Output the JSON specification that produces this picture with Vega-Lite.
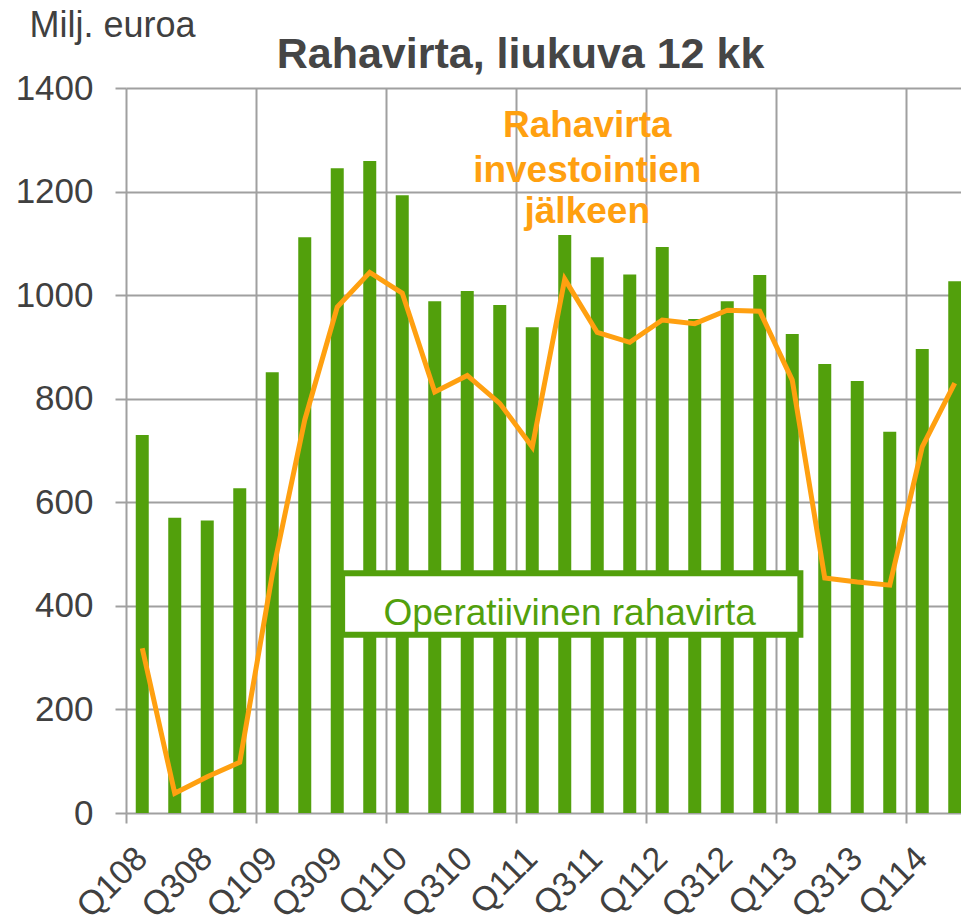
{
  "$schema": "https://vega.github.io/schema/vega-lite/v6.json",
  "width": 835,
  "height": 725,
  "autosize": {"type": "none"},
  "padding": {"left": 126, "top": 88, "right": 0, "bottom": 107},
  "background": "white",
  "config": {
    "font": "Liberation Sans",
    "view": {"stroke": null}
  },
  "title": {
    "text": "Rahavirta, liukuva 12 kk",
    "fontSize": 43,
    "fontWeight": "bold",
    "color": "#454545",
    "anchor": "middle",
    "frame": "group",
    "dx": -23,
    "baseline": "alphabetic",
    "offset": -104
  },
  "datasets": {
    "flows": [
      {"q": "Q108", "ope": 730, "inv": 318},
      {"q": "Q208", "ope": 570, "inv": 38},
      {"q": "Q308", "ope": 565, "inv": 70},
      {"q": "Q408", "ope": 627, "inv": 98},
      {"q": "Q109", "ope": 851, "inv": 460},
      {"q": "Q209", "ope": 1112, "inv": 759},
      {"q": "Q309", "ope": 1245, "inv": 977},
      {"q": "Q409", "ope": 1259, "inv": 1044},
      {"q": "Q110", "ope": 1193, "inv": 1004},
      {"q": "Q210", "ope": 988, "inv": 813},
      {"q": "Q310", "ope": 1008, "inv": 845},
      {"q": "Q410", "ope": 981, "inv": 791},
      {"q": "Q111", "ope": 938, "inv": 707},
      {"q": "Q211", "ope": 1116, "inv": 1031},
      {"q": "Q311", "ope": 1073, "inv": 928},
      {"q": "Q411", "ope": 1040, "inv": 909},
      {"q": "Q112", "ope": 1093, "inv": 952},
      {"q": "Q212", "ope": 954, "inv": 945},
      {"q": "Q312", "ope": 988, "inv": 971},
      {"q": "Q412", "ope": 1039, "inv": 969},
      {"q": "Q113", "ope": 925, "inv": 836},
      {"q": "Q213", "ope": 867, "inv": 454},
      {"q": "Q313", "ope": 834, "inv": 446},
      {"q": "Q413", "ope": 736, "inv": 440},
      {"q": "Q114", "ope": 896, "inv": 707},
      {"q": "Q214", "ope": 1027, "inv": 830}
    ],
    "notes": [
      {"q": "Q311", "v": 1305, "label": "Rahavirta"},
      {"q": "Q311", "v": 1218, "label": "investointien"},
      {"q": "Q311", "v": 1139, "label": "jälkeen"}
    ],
    "boxlabel": [
      {"label": "Operatiivinen rahavirta"}
    ]
  },
  "layer": [
    {
      "data": {"name": "flows"},
      "mark": {"type": "bar", "color": "#52A00C"},
      "encoding": {
        "x": {
          "field": "q",
          "type": "ordinal",
          "sort": null,
          "scale": {
            "type": "band",
            "domain": ["Q108","Q208","Q308","Q408","Q109","Q209","Q309","Q409","Q110","Q210","Q310","Q410","Q111","Q211","Q311","Q411","Q112","Q212","Q312","Q412","Q113","Q213","Q313","Q413","Q114","Q214"],
            "range": [0, 845],
            "paddingInner": 0.6,
            "paddingOuter": 0.3
          },
          "axis": {
            "orient": "bottom",
            "values": ["Q108","Q109","Q110","Q111","Q112","Q113","Q114"],
            "bandPosition": 0,
            "tickOffset": -9.75,
            "grid": true,
            "gridColor": "#A0A0A0",
            "gridWidth": 2,
            "ticks": true,
            "tickSize": 10,
            "tickColor": "#A0A0A0",
            "tickWidth": 2,
            "labels": false,
            "domain": false,
            "title": null
          }
        },
        "y": {
          "field": "ope",
          "type": "quantitative",
          "scale": {"domain": [0, 1400], "nice": false},
          "axis": {
            "orient": "left",
            "values": [0, 200, 400, 600, 800, 1000, 1200, 1400],
            "format": "d",
            "grid": true,
            "gridColor": "#A0A0A0",
            "gridWidth": 2,
            "ticks": true,
            "tickSize": 11,
            "tickColor": "#A0A0A0",
            "tickWidth": 2,
            "domain": false,
            "labelFontSize": 35,
            "labelColor": "#404040",
            "labelPadding": 22,
            "title": "Milj. euroa",
            "titleAngle": 0,
            "titleAlign": "left",
            "titleBaseline": "alphabetic",
            "titleX": -97,
            "titleY": -52,
            "titleFontSize": 36,
            "titleFontWeight": "normal",
            "titleColor": "#404040"
          }
        }
      }
    },
    {
      "data": {"name": "flows"},
      "mark": {"type": "line", "color": "#FFA010", "strokeWidth": 5},
      "encoding": {
        "x": {
          "field": "q",
          "type": "ordinal",
          "sort": null,
          "scale": {
            "type": "band",
            "domain": ["Q108","Q208","Q308","Q408","Q109","Q209","Q309","Q409","Q110","Q210","Q310","Q410","Q111","Q211","Q311","Q411","Q112","Q212","Q312","Q412","Q113","Q213","Q313","Q413","Q114","Q214"],
            "range": [0, 845],
            "paddingInner": 0.6,
            "paddingOuter": 0.3
          },
          "axis": {
            "orient": "bottom",
            "values": ["Q108","Q308","Q109","Q309","Q110","Q310","Q111","Q311","Q112","Q312","Q113","Q313","Q114"],
            "labelAngle": -45,
            "labelAlign": "right",
            "labelBaseline": "middle",
            "labelFontSize": 34,
            "labelColor": "#404040",
            "labelPadding": 40,
            "labelOverlap": false,
            "ticks": false,
            "tickSize": 0,
            "grid": false,
            "domain": false,
            "title": null
          }
        },
        "y": {"field": "inv", "type": "quantitative"}
      }
    },
    {
      "data": {"name": "notes"},
      "mark": {"type": "text", "color": "#FFA010", "fontSize": 37, "fontWeight": "bold", "baseline": "alphabetic", "align": "center", "dx": -10},
      "encoding": {
        "x": {
          "field": "q",
          "type": "ordinal",
          "scale": {
            "type": "band",
            "domain": ["Q108","Q208","Q308","Q408","Q109","Q209","Q309","Q409","Q110","Q210","Q310","Q410","Q111","Q211","Q311","Q411","Q112","Q212","Q312","Q412","Q113","Q213","Q313","Q413","Q114","Q214"],
            "range": [0, 845],
            "paddingInner": 0.6,
            "paddingOuter": 0.3
          },
          "axis": null
        },
        "y": {"field": "v", "type": "quantitative"},
        "text": {"field": "label"}
      }
    },
    {
      "data": {"name": "boxlabel"},
      "mark": {"type": "rect", "fill": "white", "stroke": "#52A00C", "strokeWidth": 6},
      "encoding": {
        "x": {"datum": 6.65, "type": "quantitative", "scale": {"domain": [0, 26], "range": [0, 845]}, "axis": null},
        "x2": {"datum": 20.75},
        "y": {"datum": 463, "type": "quantitative"},
        "y2": {"datum": 344}
      }
    },
    {
      "data": {"name": "boxlabel"},
      "mark": {"type": "text", "color": "#52A00C", "fontSize": 37, "baseline": "alphabetic", "align": "center"},
      "encoding": {
        "x": {"datum": 13.65, "type": "quantitative", "scale": {"domain": [0, 26], "range": [0, 845]}, "axis": null},
        "y": {"datum": 363, "type": "quantitative"},
        "text": {"field": "label"}
      }
    }
  ],
  "resolve": {"scale": {"x": "independent"}, "axis": {"x": "independent"}}
}
